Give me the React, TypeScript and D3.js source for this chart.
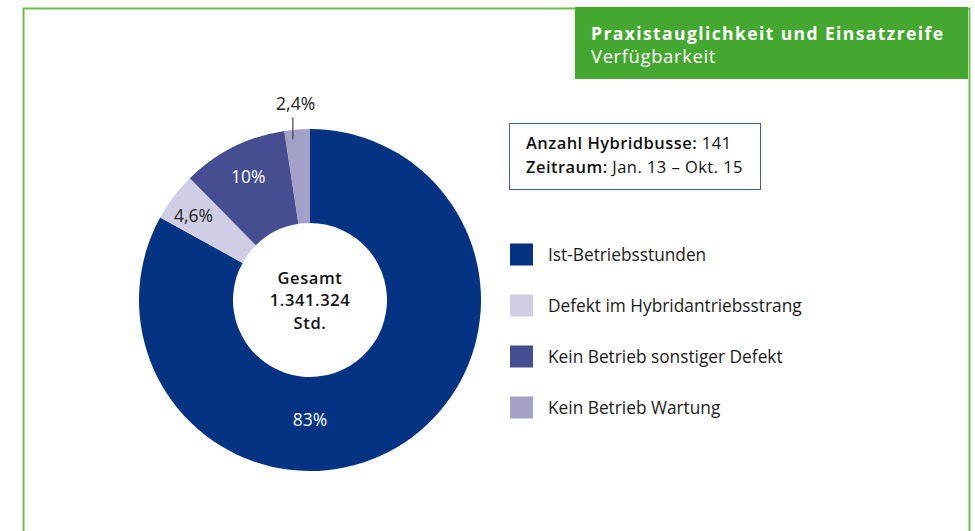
import React from "react";
import * as d3 from "d3";

const categories = [
  "Ist-Betriebsstunden",
  "Defekt im Hybridantriebsstrang",
  "Kein Betrieb sonstiger Defekt",
  "Kein Betrieb Wartung",
];
const values = [83, 4.6, 10, 2.4];
const valueLabels = ["83%", "4,6%", "10%", "2,4%"];
const colors = ["#033382", "#CFCEE4", "#464D91", "#A3A1C8"];
const labelColors = ["#ffffff", "#222222", "#ffffff", "#222222"];
const centerLines = ["Gesamt", "1.341.324", "Std."];
const titleBold = "Praxistauglichkeit und Einsatzreife";
const titleLight = "Verfügbarkeit";
const infoLines = [
  { bold: "Anzahl Hybridbusse:", light: " 141" },
  { bold: "Zeitraum:", light: " Jan. 13 – Okt. 15" },
];

const FONT = "'Open Sans', Roboto, sans-serif";

export default function App() {
  const W = 975;
  const H = 531;
  const cx = 310;
  const cy = 300;
  const rOuter = 171;
  const rInner = 77;

  const pie = d3
    .pie<number>()
    .sort(null)
    .value((d) => d)
    .startAngle(0)
    .endAngle(2 * Math.PI);
  const arcs = pie(values);
  const arcGen = d3.arc<d3.PieArcDatum<number>>().innerRadius(rInner).outerRadius(rOuter);

  const polar = (r: number, a: number) => [r * Math.sin(a), -r * Math.cos(a)];

  const legendY = d3.scaleBand<string>().domain(categories).range([229, 433]);

  return (
    <svg
      width={W}
      height={H}
      style={{ position: "absolute", left: 0, top: 0, background: "#fff" }}
      fontFamily={FONT}
    >
      {/* frame */}
      <path d={`M23.5,${H + 5} L23.5,8.5 L969.5,8.5 L969.5,${H + 5}`} fill="none" stroke="#6CBF4C" strokeWidth={2} />
      {/* header */}
      <rect x={575} y={7} width={393} height={72} fill="#44A72F" />
      <text x={591} y={39.5} fill="#fff" fontSize={17.5} fontWeight={700} letterSpacing={1.4}>
        {titleBold}
      </text>
      <text x={591} y={63} fill="#fff" fontSize={18.5} fontWeight={400} letterSpacing={0.6}>
        {titleLight}
      </text>

      {/* donut */}
      <g transform={`translate(${cx},${cy})`}>
        {arcs.map((a, i) => (
          <path key={i} d={arcGen(a) || ""} fill={colors[i]} />
        ))}
        {arcs.map((a, i) => {
          const mid = (a.startAngle + a.endAngle) / 2;
          const span = a.endAngle - a.startAngle;
          if (span < 0.2) {
            const [x1, y1] = polar(rOuter - 10, mid);
            const [, y2] = polar(rOuter + 12, mid);
            const [lx, ly] = polar(rOuter + 20, mid);
            return (
              <g key={i}>
                <line x1={x1 - 5} y1={y1} x2={x1 - 5} y2={y2} stroke="#444" strokeWidth={1.2} />
                <text x={lx} y={ly} textAnchor="middle" fontSize={17.5} fontWeight={400} fill={labelColors[i]}>
                  {valueLabels[i]}
                </text>
              </g>
            );
          }
          const ang = span > Math.PI ? Math.PI : mid;
          const r = span > Math.PI ? 120 : i === 1 ? 146 : 138;
          const [lx, ly] = polar(r, ang);
          return (
            <text
              key={i}
              x={lx}
              y={ly}
              dy={i === 1 ? "0.55em" : "0.35em"}
              textAnchor="middle"
              fontSize={17.5}
              fontWeight={400}
              fill={labelColors[i]}
            >
              {valueLabels[i]}
            </text>
          );
        })}
        {centerLines.map((t, i) => (
          <text
            key={i}
            x={0}
            y={(i - 1) * 22.5 + 6}
            textAnchor="middle"
            fontSize={16.5}
            fontWeight={600}
            letterSpacing={0.6}
            fill="#111"
          >
            {t}
          </text>
        ))}
      </g>

      {/* info box */}
      <rect x={509.5} y={123.5} width={251} height={66} fill="#fff" stroke="#3F5E9E" strokeWidth={1} />
      {infoLines.map((l, i) => (
        <text key={i} x={526} y={149 + i * 24} fontSize={16.5} letterSpacing={0.45} fill="#111">
          <tspan fontWeight={600}>{l.bold}</tspan>
          <tspan fontWeight={400}>{l.light}</tspan>
        </text>
      ))}

      {/* legend */}
      {categories.map((c, i) => {
        const y = (legendY(c) || 0) + legendY.bandwidth() / 2;
        return (
          <g key={c}>
            <rect x={510} y={y - 11} width={23} height={22} fill={colors[i]} />
            <text x={548} y={y} dy="0.35em" fontSize={17.3} fontWeight={400} fill="#1a1a1a">
              {c}
            </text>
          </g>
        );
      })}
    </svg>
  );
}
